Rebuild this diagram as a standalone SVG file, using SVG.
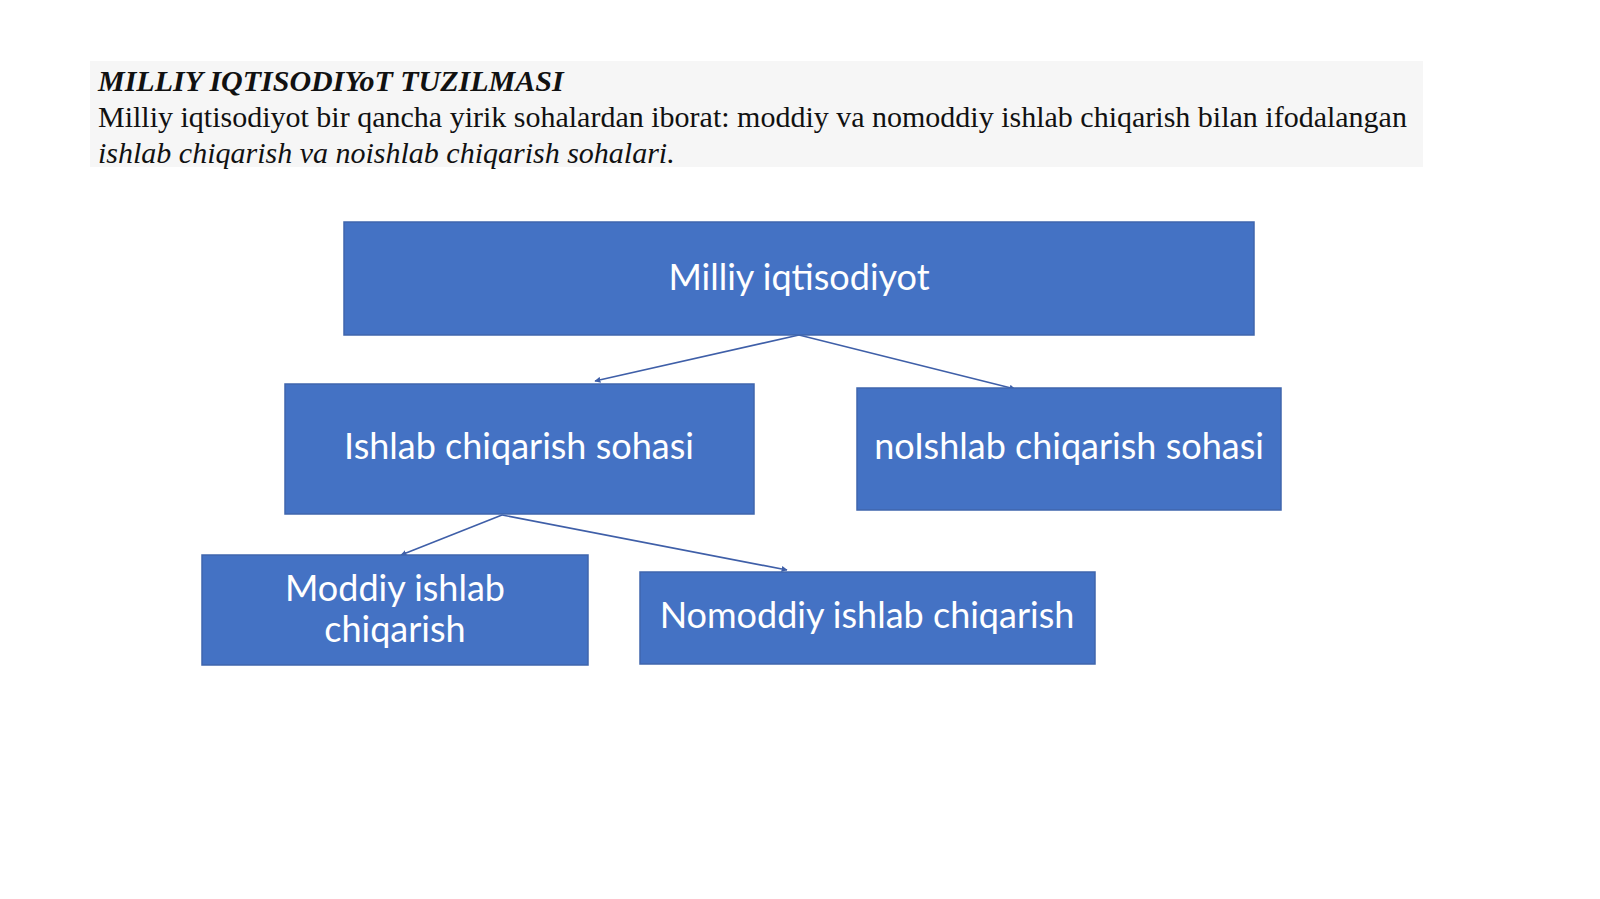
<svg xmlns="http://www.w3.org/2000/svg" width="1600" height="899" viewBox="0 0 1600 899">
<defs>
<style>
.hd{font-family:"Liberation Serif",serif;font-size:30px;fill:#111}
.box{fill:#4472c4;stroke:#3f66ad;stroke-width:1.5}
.lbl{font-family:Lato,"Open Sans",sans-serif;font-size:36px;fill:#ffffff;text-anchor:middle}
.con{stroke:#3f5fa8;stroke-width:1.6;fill:none;marker-end:url(#ah)}
</style>
<marker id="ah" viewBox="0 0 10 10" refX="9" refY="5" markerWidth="6" markerHeight="6" orient="auto-start-reverse" markerUnits="userSpaceOnUse">
<path d="M0,0 L10,5 L0,10 z" fill="#3f5fa8"/>
</marker>
</defs>
<rect width="1600" height="899" fill="#ffffff"/>
<g id="header">
<rect x="90" y="61" width="1333" height="106" fill="#f6f6f6"/>
<text class="hd" x="98" y="91" font-weight="bold" font-style="italic">MILLIY IQTISODIYoT TUZILMASI</text>
<text class="hd" x="98" y="127">Milliy iqtisodiyot bir qancha yirik sohalardan iborat: moddiy va nomoddiy ishlab chiqarish bilan ifodalangan</text>
<text class="hd" x="98" y="163" font-style="italic">ishlab chiqarish va noishlab chiqarish sohalari.</text>
</g>
<g id="connectors">
<line class="con" x1="799" y1="335" x2="595" y2="381"/>
<line class="con" x1="799" y1="335" x2="1015" y2="389"/>
<line class="con" x1="502" y1="515" x2="401" y2="555"/>
<line class="con" x1="502" y1="515" x2="787" y2="570"/>
</g>
<g id="n-milliy">
<rect class="box" x="344" y="222" width="910" height="113"/>
<text class="lbl" x="799" y="290">Milliy iqtisodiyot</text>
</g>
<g id="n-ishlab">
<rect class="box" x="285" y="384" width="469" height="130"/>
<text class="lbl" x="519" y="459">Ishlab chiqarish sohasi</text>
</g>
<g id="n-noishlab">
<rect class="box" x="857" y="388" width="424" height="122"/>
<text class="lbl" x="1069" y="459">noIshlab chiqarish sohasi</text>
</g>
<g id="n-moddiy">
<rect class="box" x="202" y="555" width="386" height="110"/>
<text class="lbl" x="395" y="601">Moddiy ishlab</text>
<text class="lbl" x="395" y="642">chiqarish</text>
</g>
<g id="n-nomoddiy">
<rect class="box" x="640" y="572" width="455" height="92"/>
<text class="lbl" x="867" y="628">Nomoddiy ishlab chiqarish</text>
</g>
</svg>
